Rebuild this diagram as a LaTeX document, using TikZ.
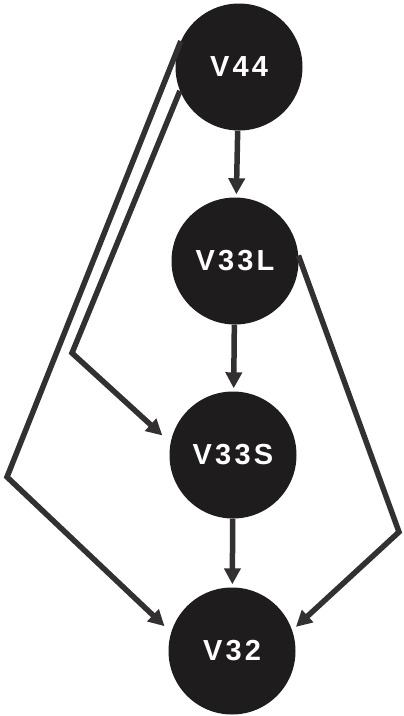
\documentclass[tikz,border=0pt]{standalone}
\usepackage{fontspec}
\setmainfont{Liberation Sans}
\usetikzlibrary{arrows.meta, calc}
\definecolor{blobfill}{RGB}{30, 28, 28}
\definecolor{linkgray}{RGB}{50, 48, 48}

\begin{document}
\begin{tikzpicture}[
  x=1pt, y=-1pt,
  vnode/.style={circle, fill=blobfill, minimum size=127pt, inner sep=0pt,
    text=white, font=\fontsize{29}{29}\selectfont\bfseries\addfontfeature{LetterSpace=11}},
  link/.style={-{Triangle[length=16pt, width=16pt]}, line width=5.5pt, draw=linkgray,
    line join=miter}
]
\useasboundingbox (0,0) rectangle (404,716);

%% ===== Knoten =====
\node[vnode] (v44)  at (239, 67)  {V44};
\node[vnode] (v33l) at (235, 261) {V33L};
\node[vnode] (v33s) at (233, 455) {V33S};
\node[vnode] (v32)  at (232, 651) {V32};

%% Knickpunkte der Umwege
\coordinate (kinkS) at (72, 353);
\coordinate (kinkO) at (7, 477);
\coordinate (kinkR) at (399, 532);

%% ===== Senkrechte Kette =====
\draw[link, shorten >=3pt] (v44) -- (v33l);
\draw[link, shorten >=3pt] (v33l) -- (v33s);
\draw[link, shorten >=3pt] (v33s) -- (v32);

%% ===== Umwege links =====
\draw[link, shorten >=11pt] (v44.202) -- (kinkS) -- (v33s.169);
\draw[link, shorten >=9pt] (v44.156) -- (kinkO) -- (v32.163);

%% ===== Umweg rechts =====
\draw[link, shorten >=5pt] (v33l.5) -- (kinkR) -- (v32.19);

\end{tikzpicture}
\end{document}
